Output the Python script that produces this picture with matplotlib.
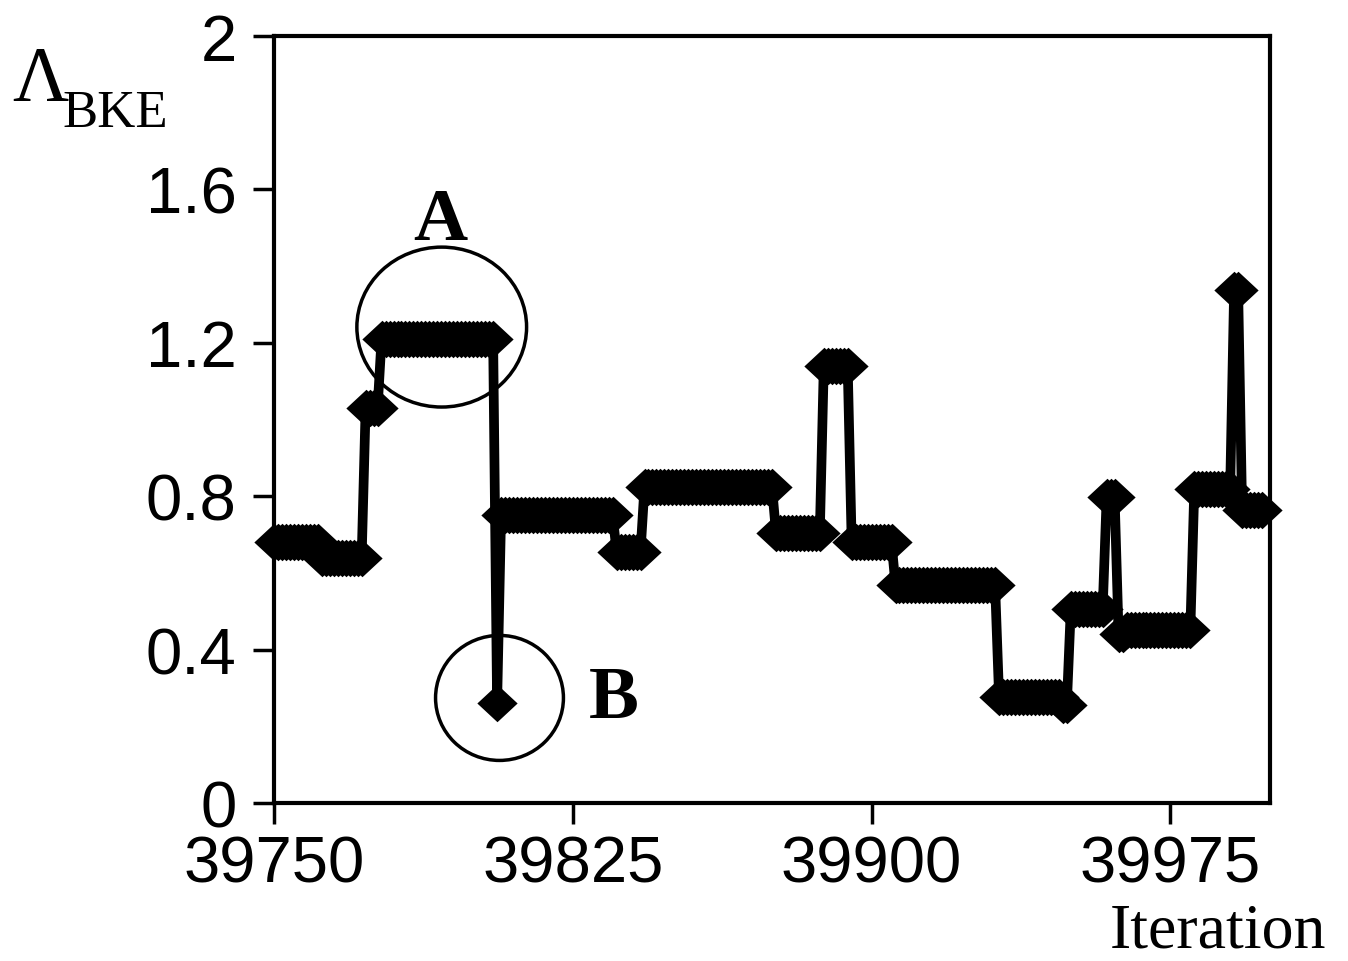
import numpy as np
import matplotlib
matplotlib.use("Agg")
import matplotlib.pyplot as plt
from matplotlib.patches import Ellipse

# ---- data (plateaus of Lambda_BKE per iteration) ----
start_iteration = 39750
plateau_values = [0.68, 0.64, 1.03, 1.21, 0.26, 0.75, 0.655, 0.825, 0.705, 1.14,
                  0.68, 0.568, 0.277, 0.255, 0.506, 0.797, 0.44, 0.451, 0.819,
                  1.338, 0.764]
plateau_lengths = [12, 11, 4, 29, 1, 29, 7, 33, 12, 7,
                   11, 26, 16, 2, 9, 3, 2, 17, 10,
                   2, 6]
x_ticks = [39750, 39825, 39900, 39975]
x_tick_labels = ["39750", "39825", "39900", "39975"]
y_ticks = [0, 0.4, 0.8, 1.2, 1.6, 2.0]
y_tick_labels = ["0", "0.4", "0.8", "1.2", "1.6", "2"]

values = np.repeat(plateau_values, plateau_lengths)
iterations = start_iteration + np.arange(len(values))

fig = plt.figure(figsize=(13.48, 9.62), dpi=100)
ax = fig.add_axes([274/1348, (962-804)/962, 996/1348, 767/962])

diamond = [(-1, 0), (0, 0.93), (1, 0), (0, -0.93), (-1, 0)]
ax.plot(iterations, values, color="black", lw=7, marker=diamond, ms=29,
        mec="black", mfc="black", mew=0, clip_on=False, zorder=3,
        solid_joinstyle="miter")

ax.set_xlim(39750, 40000)
ax.set_ylim(0, 2)
ax.set_xticks(x_ticks)
ax.set_xticklabels(x_tick_labels)
ax.set_yticks(y_ticks)
ax.set_yticklabels(y_tick_labels)

for s in ax.spines.values():
    s.set_linewidth(3)
    s.set_color("black")
ax.tick_params(axis="both", direction="out", length=15, width=2.5,
               labelsize=47, colors="black")
ax.tick_params(axis="x", pad=8)
ax.tick_params(axis="y", pad=12)
for lab in ax.get_xticklabels() + ax.get_yticklabels():
    lab.set_family(["Liberation Sans", "DejaVu Sans"])

# annotation circles A and B
ax.add_patch(Ellipse((39792.1, 1.241), 42.6, 0.417, fill=False, lw=2.5,
                     ec="black", clip_on=False, zorder=4))
ax.add_patch(Ellipse((39806.6, 0.274), 32.1, 0.326, fill=False, lw=2.5,
                     ec="black", clip_on=False, zorder=4))

serif = ["Liberation Serif", "DejaVu Serif"]
ax.text(39791.8, 1.471, "A", fontsize=54, fontweight="bold", family=serif,
        ha="center", va="baseline")
ax.text(39829.0, 0.224, "B", fontsize=54, fontweight="bold", family=serif,
        ha="left", va="baseline")

# y-axis label Λ_BKE
fig.text(12/1348, 1 - 100/962, "Λ", fontsize=56, family=serif,
         ha="left", va="baseline")
fig.text(62/1348, 1 - 127/962, "BKE", fontsize=38, family=serif,
         ha="left", va="baseline")
# x-axis label
fig.text(1326/1348, 1 - 948/962, "Iteration", fontsize=46, family=serif,
         ha="right", va="baseline")

fig.savefig("out.png", dpi=100)
